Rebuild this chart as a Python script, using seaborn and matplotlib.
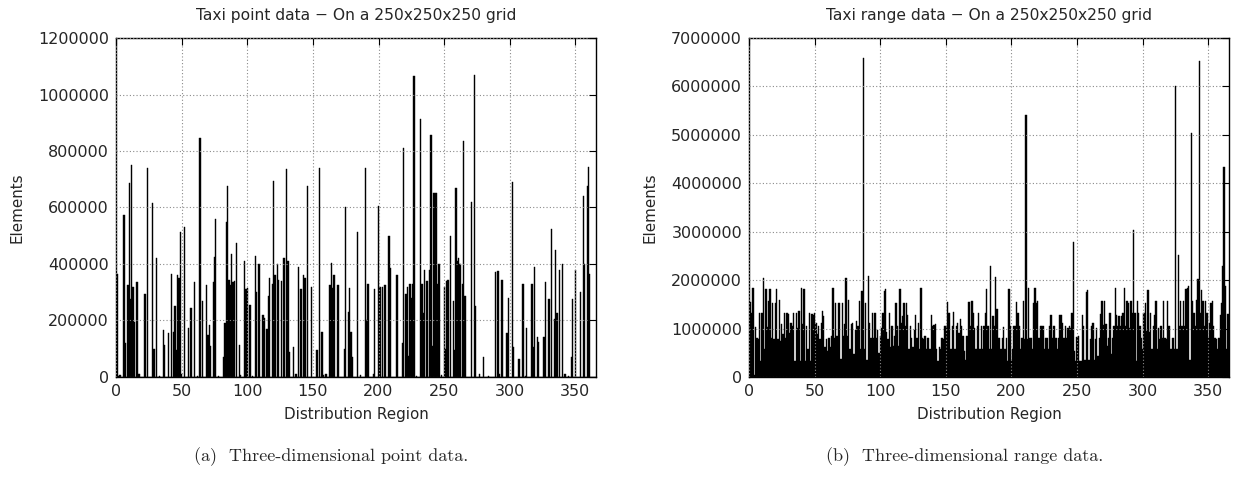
#!/usr/bin/env python3

import numpy as np
import pandas
import matplotlib
matplotlib.use("Agg")
import matplotlib.pyplot as plt
import seaborn as sns

# Point data: regions with a visible bar and their element counts (thousands)
point_regions = [
    1, 2, 3, 6, 7, 9, 10, 11, 12, 13, 14, 16, 17, 18, 22, 24, 28, 29, 31, 33,
    36, 37, 40, 42, 44, 45, 46, 47, 48, 49, 50, 52, 55, 57, 60, 62, 64, 66, 69, 70,
    71, 72, 74, 75, 76, 78, 82, 83, 84, 85, 86, 87, 88, 89, 90, 92, 94, 95, 98, 99,
    100, 102, 104, 106, 107, 109, 112, 113, 115, 116, 117, 119, 120, 121, 123, 124, 126, 128, 130, 131,
    132, 135, 137, 139, 141, 143, 144, 146, 149, 153, 155, 157, 158, 160, 163, 164, 165, 166, 169, 174,
    175, 177, 178, 179, 180, 184, 186, 190, 191, 192, 196, 197, 200, 201, 203, 205, 208, 209, 214, 218,
    219, 221, 222, 223, 224, 225, 226, 227, 229, 232, 233, 234, 235, 237, 239, 240, 241, 242, 243, 244,
    245, 246, 248, 250, 251, 252, 253, 255, 257, 258, 259, 260, 261, 262, 264, 265, 266, 271, 273, 274,
    277, 280, 284, 289, 291, 292, 294, 298, 299, 302, 303, 307, 310, 312, 313, 317, 318, 319, 321, 322,
    326, 327, 330, 332, 334, 335, 336, 338, 340, 342, 345, 347, 348, 350, 354, 356, 357, 359, 360, 361,
]
point_counts_k = [
    365, 5, 8, 575, 120, 325, 685, 275, 750, 320, 195, 335, 12, 10, 295, 740, 615, 100, 420, 5,
    165, 115, 155, 365, 160, 250, 95, 360, 350, 515, 10, 530, 175, 245, 335, 5, 845, 270, 325, 150,
    185, 110, 335, 425, 560, 3, 70, 190, 550, 675, 345, 325, 435, 335, 340, 475, 115, 8, 410, 310,
    315, 255, 5, 430, 300, 400, 220, 210, 170, 285, 350, 330, 695, 360, 400, 345, 340, 420, 735, 410,
    90, 105, 10, 390, 310, 360, 350, 675, 320, 95, 740, 160, 8, 10, 325, 405, 315, 360, 325, 100,
    600, 230, 315, 160, 70, 515, 8, 740, 200, 330, 10, 310, 605, 320, 320, 325, 500, 385, 360, 120,
    810, 295, 320, 75, 330, 280, 330, 1065, 5, 915, 330, 225, 380, 340, 380, 855, 110, 650, 650, 650,
    330, 400, 8, 320, 100, 340, 345, 500, 270, 95, 670, 410, 420, 400, 330, 835, 285, 620, 1070, 250,
    10, 70, 3, 370, 375, 10, 345, 155, 280, 690, 105, 65, 330, 5, 175, 330, 105, 390, 140, 125,
    140, 335, 275, 525, 205, 450, 225, 380, 400, 10, 5, 70, 275, 380, 300, 640, 400, 675, 745, 365,
]

# Range data: elements per region (millions), regions 0-119, 120-243, 244-365
range_m_0 = [
    1.34, 1.55, 1.33, 1.83, 0.05, 1.03, 0.80, 0.78, 1.33, 0.33,
    1.33, 2.05, 0.57, 1.81, 1.03, 1.57, 1.81, 0.81, 1.53, 0.78,
    1.53, 1.81, 0.78, 1.60, 0.74, 1.09, 0.88, 1.33, 0.81, 1.33,
    1.30, 0.90, 1.12, 1.05, 1.33, 0.33, 1.33, 1.02, 1.36, 0.33,
    1.83, 1.09, 1.81, 0.33, 1.05, 0.57, 1.33, 0.33, 1.31, 1.29,
    1.33, 1.12, 0.88, 1.05, 0.78, 1.11, 1.36, 1.26, 0.61, 0.78,
    0.54, 0.81, 0.61, 0.85, 1.83, 0.81, 1.53, 0.85, 1.53, 1.53,
    0.38, 1.53, 0.85, 1.09, 2.05, 0.85, 1.60, 0.57, 1.09, 1.12,
    0.47, 0.98, 1.16, 1.05, 1.57, 0.57, 1.78, 6.59, 0.57, 1.53,
    0.36, 2.09, 1.12, 0.81, 1.33, 0.81, 1.33, 0.81, 0.98, 0.50,
    0.85, 1.02, 1.33, 1.78, 1.81, 0.92, 0.78, 1.33, 0.61, 1.05,
    0.64, 0.85, 1.53, 1.05, 0.64, 1.81, 1.12, 1.26, 1.53, 1.05,
]
range_m_120 = [
    1.53, 1.27, 0.57, 1.05, 0.81, 0.61, 0.98, 1.29, 0.81, 1.12,
    0.57, 1.83, 0.81, 0.78, 0.85, 0.57, 0.81, 0.81, 0.57, 1.29,
    1.05, 1.07, 1.09, 0.57, 0.33, 0.61, 0.57, 0.81, 0.78, 1.05,
    1.05, 1.55, 1.33, 1.33, 0.57, 1.05, 1.34, 0.57, 1.05, 1.12,
    0.90, 1.20, 1.05, 0.85, 0.54, 0.36, 0.85, 1.55, 1.55, 1.05,
    1.57, 1.33, 1.02, 0.57, 1.05, 1.33, 0.57, 1.05, 0.57, 1.05,
    1.33, 1.81, 1.05, 0.57, 2.29, 0.57, 1.26, 1.05, 2.07, 1.40,
    0.81, 0.81, 0.57, 0.81, 1.03, 0.57, 0.81, 0.33, 1.81, 1.05,
    0.36, 0.57, 1.05, 1.05, 1.55, 1.33, 1.05, 0.57, 0.81, 1.57,
    0.78, 5.41, 0.78, 1.83, 0.81, 0.81, 0.57, 1.53, 1.83, 1.53,
    1.57, 0.81, 1.05, 1.05, 1.05, 0.57, 0.81, 0.81, 0.57, 1.05,
    1.29, 0.81, 1.05, 1.05, 0.81, 0.57, 0.81, 1.29, 1.29, 1.11,
    0.81, 1.05, 0.81, 1.02,
]
range_m_244 = [
    1.05, 1.02, 1.33, 2.79, 0.54, 0.33, 0.83, 0.85, 0.33, 0.33,
    1.27, 1.05, 0.36, 1.76, 1.79, 0.36, 0.78, 1.05, 1.12, 0.36,
    0.78, 1.02, 0.43, 0.81, 1.31, 1.57, 1.07, 1.57, 1.10, 0.63,
    0.81, 1.33, 0.47, 0.81, 1.05, 1.83, 1.29, 1.05, 1.26, 1.05,
    1.26, 1.33, 1.84, 1.05, 1.57, 1.53, 1.02, 1.57, 1.33, 3.03,
    1.33, 0.33, 1.57, 1.33, 1.05, 0.81, 0.57, 1.33, 1.53, 0.95,
    1.79, 0.92, 1.33, 0.57, 1.05, 1.29, 1.57, 0.57, 1.02, 0.78,
    1.05, 0.81, 1.57, 0.81, 0.78, 1.57, 1.05, 0.57, 0.57, 0.81,
    0.57, 6.01, 0.57, 2.52, 1.05, 1.57, 1.05, 1.57, 1.05, 1.81,
    1.84, 1.87, 0.36, 5.04, 1.57, 1.33, 1.05, 1.60, 2.03, 6.52,
    1.33, 1.79, 1.57, 1.05, 1.57, 1.33, 0.81, 1.12, 1.53, 1.57,
    1.05, 0.81, 0.78, 0.57, 0.81, 1.29, 1.53, 2.29, 4.34, 1.88,
    0.57, 1.30,
]

n_regions = 366
x_ticks = [0, 50, 100, 150, 200, 250, 300, 350]
point_yticks = [0, 200000, 400000, 600000, 800000, 1000000, 1200000]
range_yticks = [0, 1000000, 2000000, 3000000, 4000000, 5000000, 6000000, 7000000]

titles = [
    "Taxi point data \u2212 On a 250x250x250 grid",
    "Taxi range data \u2212 On a 250x250x250 grid",
]
captions = [
    "(a)  Three-dimensional point data.",
    "(b)  Three-dimensional range data.",
]


def build_frames():
    point = np.zeros(n_regions)
    point[point_regions] = np.array(point_counts_k) * 1000
    rng = np.array(range_m_0 + range_m_120 + range_m_244) * 1e6
    regions = np.arange(n_regions)
    pdf = pandas.DataFrame({"region": regions, "elements": point})
    rdf = pandas.DataFrame({"region": regions, "elements": rng})
    return pdf, rdf


def style_axes(ax, yticks, title):
    ax.set_xlim(0, 365.7)
    ax.set_ylim(0, yticks[-1])
    ax.set_xticks(x_ticks, labels=[str(t) for t in x_ticks], fontsize=11.5)
    ax.set_yticks(yticks, labels=[str(t) for t in yticks], fontsize=11.5)
    ax.set_xlabel("Distribution Region", fontsize=10.9, labelpad=6)
    ax.set_ylabel("Elements", fontsize=10.9, labelpad=10)
    ax.set_title(title, fontsize=11.2, pad=13)
    ax.set_axisbelow(False)
    ax.grid(True, color="#8a8a8a", linestyle=(0, (1, 2)), linewidth=0.8)
    ax.tick_params(direction="in", top=True, right=True, length=5, width=0.8,
                   color="black", pad=5)
    for s in ax.spines.values():
        s.set_color("black")
        s.set_linewidth(1.0)


def main():
    sns.set_style("white")
    plt.rcParams["font.family"] = ["DejaVu Sans"]

    pdf, rdf = build_frames()

    fig = plt.figure(figsize=(12.36, 4.78), dpi=100)
    ax1 = fig.add_axes([0.0939, 0.2113, 0.3883, 0.7092])
    ax2 = fig.add_axes([0.6060, 0.2113, 0.3883, 0.7092])

    for ax, df, yt, title in [(ax1, pdf, point_yticks, titles[0]),
                              (ax2, rdf, range_yticks, titles[1])]:
        sns.barplot(data=df, x="region", y="elements", native_scale=True,
                    width=1.0, color="black", saturation=1, errorbar=None,
                    edgecolor="black", linewidth=0.3, ax=ax)
        style_axes(ax, yt, title)

    for ax, cap in zip([ax1, ax2], captions):
        pos = ax.get_position()
        fig.text((pos.x0 + pos.x1) / 2 - 0.02, 0.045, cap, ha="center",
                 va="center", fontsize=13, family="cmr10")

    fig.savefig("out.png", dpi=100, facecolor="white")


if __name__ == "__main__":
    main()
